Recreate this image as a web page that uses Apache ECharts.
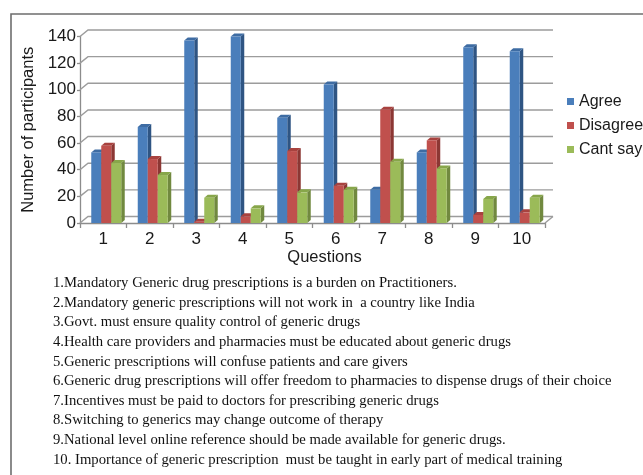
<!DOCTYPE html>
<html>
<head>
<meta charset="utf-8">
<script src="https://cdn.jsdelivr.net/npm/echarts@6/dist/echarts.min.js"></script>
<style>
  html, body { margin: 0; padding: 0; background: #ffffff; }
  #chart { width: 643px; height: 475px; }
</style>
</head>
<body>
<div id="chart"></div>
<script>
// Survey responses per question
const questions = ['1', '2', '3', '4', '5', '6', '7', '8', '9', '10'];
const agree     = [53, 72, 137, 140, 79, 104, 25, 53, 132, 129];
const disagree  = [58, 48, 1, 5, 54, 28, 85, 62, 6, 8];
const cantSay   = [45, 36, 19, 11, 23, 25, 46, 41, 18, 19];
const yTicks    = [0, 20, 40, 60, 80, 100, 120, 140];

const questionTexts = [
  '1.Mandatory Generic drug prescriptions is a burden on Practitioners.',
  '2.Mandatory generic prescriptions will not work in  a country like India',
  '3.Govt. must ensure quality control of generic drugs',
  '4.Health care providers and pharmacies must be educated about generic drugs',
  '5.Generic prescriptions will confuse patients and care givers',
  '6.Generic drug prescriptions will offer freedom to pharmacies to dispense drugs of their choice',
  '7.Incentives must be paid to doctors for prescribing generic drugs',
  '8.Switching to generics may change outcome of therapy',
  '9.National level online reference should be made available for generic drugs.',
  '10. Importance of generic prescription  must be taught in early part of medical training'
];

// Pseudo-3D styling: front / side / top face colours per series
const faces = [
  { front: '#4a7ebb', side: '#2f5583', top: '#3e6ca3' },
  { front: '#c0504d', side: '#8c3734', top: '#a8423f' },
  { front: '#9bbb59', side: '#71893f', top: '#87a64a' }
];
const DEPTH_X = 8, DEPTH_Y = 6.5;      // back-wall offset
const BAR_DX = 3.5, BAR_DY = 3;        // bar depth
const FONT = '"Liberation Sans", Arial, sans-serif';

const chart = echarts.init(document.getElementById('chart'), null, { renderer: 'canvas' });

function barRenderer(seriesIdx) {
  return function (params, api) {
    const band = api.size([1, 0])[0];
    const w = band * 0.215;
    const top = api.coord([api.value(0), api.value(1)]);
    const base = api.coord([api.value(0), 0]);
    const left = top[0] - band * 0.258 + seriesIdx * w;
    const right = left + w;
    const c = faces[seriesIdx];
    return {
      type: 'group',
      children: [
        { type: 'polygon', shape: { points: [[right, top[1]], [right + BAR_DX, top[1] - BAR_DY], [right + BAR_DX, base[1] - BAR_DY], [right, base[1]]] }, style: { fill: c.side } },
        { type: 'polygon', shape: { points: [[left, top[1]], [left + BAR_DX, top[1] - BAR_DY], [right + BAR_DX, top[1] - BAR_DY], [right, top[1]]] }, style: { fill: c.top } },
        { type: 'rect', shape: { x: left, y: top[1], width: w, height: base[1] - top[1] }, style: { fill: c.front } }
      ]
    };
  };
}

function wallRenderer(params, api) {
  const cs = params.coordSys;
  const y = api.coord([0, api.value(0)])[1];
  const x0 = cs.x, x1 = cs.x + cs.width;
  const children = [
    { type: 'polyline', shape: { points: [[x0, y], [x0 + DEPTH_X, y - DEPTH_Y], [x1 + DEPTH_X, y - DEPTH_Y]] },
      style: { stroke: '#9c9c9c', lineWidth: 1.4, fill: null } }
  ];
  if (api.value(0) === 0) {
    children.push({ type: 'line', shape: { x1: x1, y1: y, x2: x1 + DEPTH_X, y2: y - DEPTH_Y },
      style: { stroke: '#9c9c9c', lineWidth: 1.4 } });
  }
  return { type: 'group', children: children };
}

const seriesDefs = [
  { name: 'Agree', values: agree },
  { name: 'Disagree', values: disagree },
  { name: 'Cant say', values: cantSay }
];

const option = {
  animation: false,
  backgroundColor: '#ffffff',
  grid: { left: 80, top: 36.5, width: 465, height: 186.5 },
  legend: {
    data: seriesDefs.map(s => s.name),
    orient: 'vertical',
    left: 562,
    top: 88.5,
    icon: 'rect',
    itemWidth: 7,
    itemHeight: 7,
    itemGap: 8,
    textStyle: { fontFamily: FONT, fontSize: 16, lineHeight: 16, color: '#1a1a1a' }
  },
  xAxis: {
    type: 'category',
    data: questions,
    name: 'Questions',
    nameLocation: 'middle',
    nameGap: 26,
    nameTextStyle: { fontFamily: FONT, fontSize: 16.5, color: '#1a1a1a', padding: [0, 0, 0, 24] },
    axisLine: { lineStyle: { color: '#8c8c8c', width: 1.3 } },
    axisTick: { show: true, length: 5, lineStyle: { color: '#8c8c8c', width: 1.3 } },
    axisLabel: { fontFamily: FONT, fontSize: 17, color: '#1a1a1a', margin: 8 },
    splitLine: { show: false }
  },
  yAxis: {
    type: 'value',
    min: 0,
    max: 140,
    interval: 20,
    name: 'Number of participants',
    nameLocation: 'middle',
    nameGap: 42,
    nameTextStyle: { fontFamily: FONT, fontSize: 16.5, color: '#1a1a1a' },
    axisLine: { show: true, lineStyle: { color: '#8c8c8c', width: 1.3 } },
    axisTick: { show: true, length: 3, lineStyle: { color: '#8c8c8c', width: 1.3 } },
    axisLabel: { fontFamily: FONT, fontSize: 17, color: '#1a1a1a', margin: 4 },
    splitLine: { show: false }
  },
  series: [
    {
      type: 'custom',
      name: 'wall',
      silent: true,
      z: 1,
      renderItem: wallRenderer,
      data: yTicks.map(v => [v]),
      encode: { y: 0 }
    }
  ].concat(seriesDefs.map((s, i) => ({
    type: 'custom',
    name: s.name,
    z: 2,
    itemStyle: { color: faces[i].front },
    renderItem: barRenderer(i),
    data: s.values.map((v, k) => [k, v]),
    encode: { x: 0, y: 1 }
  }))),
  graphic: [
    {
      type: 'polyline',
      silent: true,
      shape: { points: [[11, 475], [11, 14], [643, 14]] },
      style: { stroke: '#6e6e6e', lineWidth: 1.6, fill: null }
    },
    {
      type: 'text',
      left: 53,
      top: 273.5,
      silent: true,
      style: {
        text: questionTexts.join('\n'),
        font: '14.7px "Liberation Serif", "Times New Roman", serif',
        lineHeight: 19.6,
        fill: '#111111'
      }
    }
  ]
};

chart.setOption(option);
</script>
</body>
</html>
